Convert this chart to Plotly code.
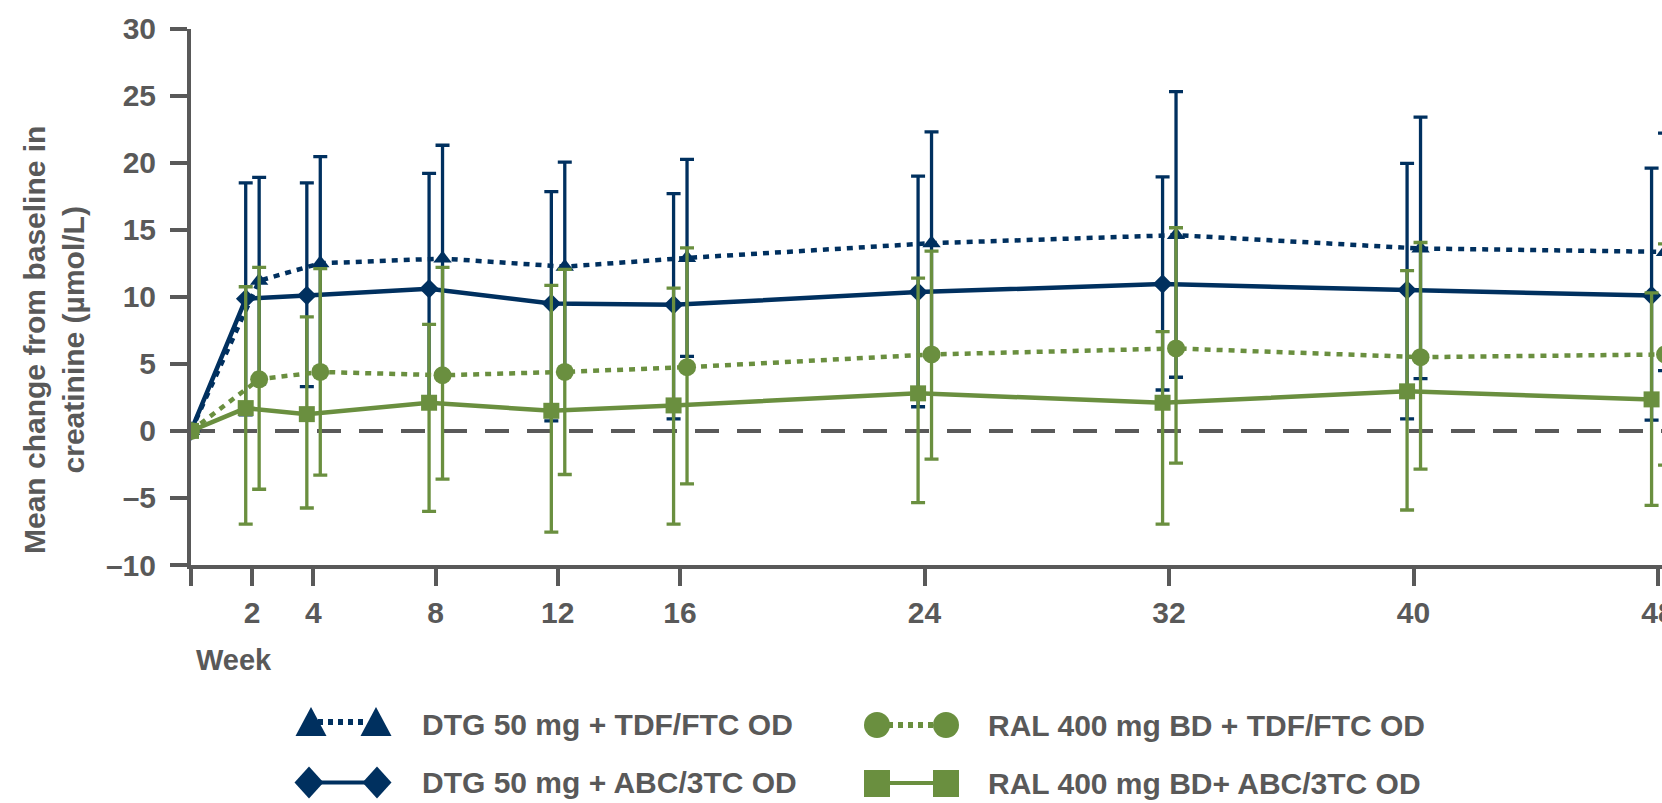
import plotly.graph_objects as go

# ---------------- data ----------------
weeks = [0, 2, 4, 8, 12, 16, 24, 32, 40, 48]
x_tick_labels = ["", "2", "4", "8", "12", "16", "24", "32", "40", "48"]
y_tick_vals = [-10, -5, 0, 5, 10, 15, 20, 25, 30]
y_tick_labels = ["–10", "–5", "0", "5", "10", "15", "20", "25", "30"]

dtg_tdf_name = "DTG 50 mg + TDF/FTC OD"
dtg_tdf_mean = [0, 11.2, 12.5, 12.85, 12.25, 12.9, 14.0, 14.6, 13.6, 13.35]
dtg_tdf_upper = [None, 18.9, 20.45, 21.3, 20.05, 20.25, 22.3, 25.3, 23.4, 22.2]
dtg_tdf_lower = [None, 3.5, 4.6, 4.4, 4.45, 5.55, 5.7, 4.0, 3.9, 4.5]

dtg_abc_name = "DTG 50 mg + ABC/3TC OD"
dtg_abc_mean = [0, 9.85, 10.1, 10.6, 9.5, 9.4, 10.35, 10.95, 10.5, 10.1]
dtg_abc_upper = [None, 18.5, 18.5, 19.2, 17.85, 17.7, 19.0, 18.95, 19.95, 19.6]
dtg_abc_lower = [None, 1.2, 3.3, 2.0, 0.75, 0.9, 1.8, 3.05, 0.9, 0.8]

ral_tdf_name = "RAL 400 mg BD + TDF/FTC OD"
ral_tdf_mean = [0, 3.85, 4.4, 4.15, 4.4, 4.75, 5.7, 6.15, 5.5, 5.7]
ral_tdf_upper = [None, 12.2, 12.1, 12.2, 12.05, 13.65, 13.4, 15.15, 14.05, 13.95]
ral_tdf_lower = [None, -4.35, -3.3, -3.6, -3.25, -3.95, -2.1, -2.4, -2.85, -2.55]

ral_abc_name = "RAL 400 mg BD+ ABC/3TC OD"
ral_abc_mean = [0, 1.7, 1.25, 2.1, 1.5, 1.9, 2.8, 2.1, 2.95, 2.35]
ral_abc_upper = [None, 10.75, 8.5, 7.95, 10.85, 10.65, 11.4, 7.4, 11.95, 10.3]
ral_abc_lower = [None, -6.95, -5.75, -6.0, -7.55, -6.95, -5.35, -6.95, -5.9, -5.55]

x_title = "Week"
y_title = "Mean change from baseline in<br>creatinine (µmol/L)"

# ---------------- style ----------------
W, H = 1662, 803
NAVY = "#00305F"
GREEN = "#6A8F3F"
GREY = "#595959"
FONT = "Liberation Sans Narrow, Arial Narrow, Liberation Sans, Arial, sans-serif"

PL, PR, PT, PB = 191, 1662, 28.6, 565   # plot area in pixels
X_MAX = 48 * (PR - PL) / (1658 - PL)
LEFT_SHIFT, RIGHT_SHIFT = -0.21, 0.23   # horizontal dodge (weeks)


def dodge(shift):
    return [w + shift if w > 0 else w for w in weeks]


def errs(mean, upper, lower):
    plus = [None if u is None else u - m for m, u in zip(mean, upper)]
    minus = [None if l is None else m - l for m, l in zip(mean, lower)]
    return plus, minus


def px(x):
    return x / W


def py(y):
    return 1 - y / H


series = [
    (dtg_tdf_name, dtg_tdf_mean, dtg_tdf_upper, dtg_tdf_lower, NAVY, "dot", "triangle-up", 16, RIGHT_SHIFT),
    (dtg_abc_name, dtg_abc_mean, dtg_abc_upper, dtg_abc_lower, NAVY, "solid", "diamond", 15, LEFT_SHIFT),
    (ral_tdf_name, ral_tdf_mean, ral_tdf_upper, ral_tdf_lower, GREEN, "dot", "circle", 18, RIGHT_SHIFT),
    (ral_abc_name, ral_abc_mean, ral_abc_upper, ral_abc_lower, GREEN, "solid", "square", 16, LEFT_SHIFT),
]

fig = go.Figure()
for name, mean, upper, lower, color, dash, symbol, size, shift in series:
    plus, minus = errs(mean, upper, lower)
    fig.add_trace(go.Scatter(
        x=dodge(shift), y=mean, name=name, mode="lines+markers",
        line=dict(color=color, width=4.5, dash="6px,6px" if dash == "dot" else "solid"),
        marker=dict(symbol=symbol, size=size, color=color, line=dict(width=0)),
        error_y=dict(type="data", symmetric=False, array=plus, arrayminus=minus,
                     color=color, thickness=3.3, width=7),
        showlegend=False,
    ))

shapes = [dict(type="line", xref="x", yref="y", x0=0, x1=X_MAX, y0=0, y1=0,
               line=dict(color=GREY, width=4, dash="24px,18px"), layer="below")]


# ---- manual legend glyphs (pixel positions) ----
def path(points):
    return "M " + " L ".join(f"{px(x)},{py(y)}" for x, y in points) + " Z"


# row 1, col 1 : triangles + dotted line
shapes.append(dict(type="line", xref="paper", yref="paper", x0=px(318), x1=px(368), y0=py(722), y1=py(722),
                   line=dict(color=NAVY, width=6, dash="5px,5px")))
for cx in (311, 376):
    shapes.append(dict(type="path", xref="paper", yref="paper",
                       path=path([(cx - 15.5, 736), (cx + 15.5, 736), (cx, 707)]),
                       fillcolor=NAVY, line=dict(width=0)))
# row 2, col 1 : diamonds + solid line
shapes.append(dict(type="line", xref="paper", yref="paper", x0=px(309), x1=px(377), y0=py(782.5), y1=py(782.5),
                   line=dict(color=NAVY, width=4)))
for cx in (309, 377):
    shapes.append(dict(type="path", xref="paper", yref="paper",
                       path=path([(cx - 14.5, 782.5), (cx, 766.5), (cx + 14.5, 782.5), (cx, 798.5)]),
                       fillcolor=NAVY, line=dict(width=0)))
# row 1, col 2 : circles + dotted line
shapes.append(dict(type="line", xref="paper", yref="paper", x0=px(888), x1=px(936), y0=py(725), y1=py(725),
                   line=dict(color=GREEN, width=6, dash="5px,5px")))
for cx in (877, 946):
    shapes.append(dict(type="circle", xref="paper", yref="paper",
                       x0=px(cx - 13), x1=px(cx + 13), y0=py(712), y1=py(738),
                       fillcolor=GREEN, line=dict(width=0)))
# row 2, col 2 : squares + solid line
shapes.append(dict(type="line", xref="paper", yref="paper", x0=px(877), x1=px(946), y0=py(783), y1=py(783),
                   line=dict(color=GREEN, width=4)))
for cx in (877, 946):
    shapes.append(dict(type="rect", xref="paper", yref="paper",
                       x0=px(cx - 13), x1=px(cx + 13), y0=py(770), y1=py(797),
                       fillcolor=GREEN, line=dict(width=0)))

legend_font = dict(family=FONT, size=30, color=GREY, weight="bold")
annotations = [
    dict(x=px(54), y=py(340), xref="paper", yref="paper", text=y_title, textangle=-90,
         showarrow=False, xanchor="center", yanchor="middle",
         font=dict(family=FONT, size=30, color=GREY, weight="bold")),
    dict(x=px(194), y=py(660), xref="paper", yref="paper", text=x_title,
         showarrow=False, xanchor="left", yanchor="middle",
         font=dict(family=FONT, size=29, color=GREY, weight="bold")),
]
for text, x, y in [(dtg_tdf_name, 420, 724), (dtg_abc_name, 420, 782),
                   (ral_tdf_name, 986, 725), (ral_abc_name, 986, 783)]:
    annotations.append(dict(x=px(x), y=py(y), xref="paper", yref="paper", text=text,
                            showarrow=False, xanchor="left", yanchor="middle", font=legend_font))

axis_common = dict(showline=True, linecolor=GREY, linewidth=4, ticks="outside",
                   ticklen=17, tickwidth=4, tickcolor=GREY, showgrid=False,
                   zeroline=False, automargin=False, ticklabeloverflow="allow",
                   tickfont=dict(family=FONT, size=30, color=GREY, weight="bold"))

fig.update_layout(
    width=W, height=H,
    margin=dict(l=0, r=0, t=0, b=0),
    paper_bgcolor="white", plot_bgcolor="white",
    xaxis=dict(domain=[px(PL), 1], range=[0, X_MAX], tickvals=weeks, ticktext=x_tick_labels,
               ticklabelstandoff=1, **axis_common),
    yaxis=dict(domain=[py(PB), py(PT)], range=[-10, 30], tickvals=y_tick_vals, ticktext=y_tick_labels,
               ticklabelstandoff=8, **axis_common),
    shapes=shapes,
    annotations=annotations,
    showlegend=False,
)

fig.write_html("out.html", config={"displayModeBar": False},
               post_script="document.body.style.margin='0';document.body.style.overflow='hidden';")
